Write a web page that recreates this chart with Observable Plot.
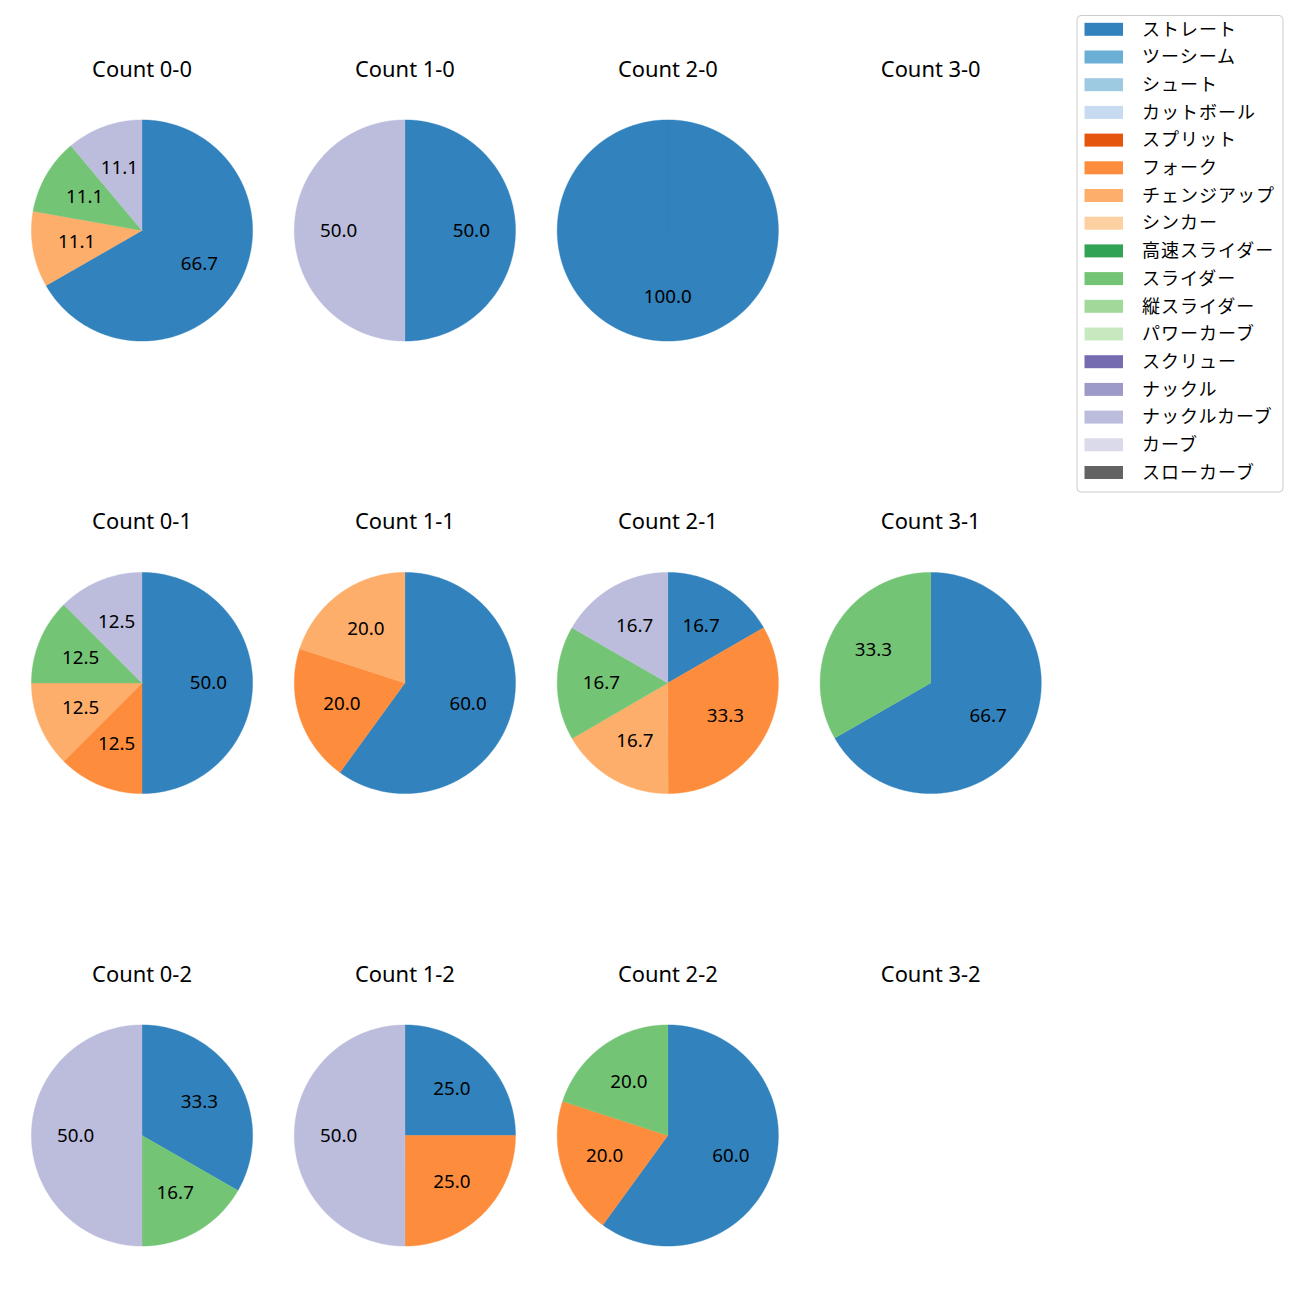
<!DOCTYPE html>
<html>
<head>
<meta charset="utf-8">
<script src="https://cdn.jsdelivr.net/npm/d3@7"></script>
<script src="https://cdn.jsdelivr.net/npm/@observablehq/plot@0.6"></script>
<style>
  body { margin: 0; background: #fff; }
</style>
</head>
<body>
<div id="chart"></div>
<script>
// ---- Data ----
const pitchTypes = ["ストレート", "ツーシーム", "シュート", "カットボール", "スプリット", "フォーク", "チェンジアップ", "シンカー", "高速スライダー", "スライダー", "縦スライダー", "パワーカーブ", "スクリュー", "ナックル", "ナックルカーブ", "カーブ", "スローカーブ"];
const pitchColors = ["#3182bd", "#6baed6", "#9ecae1", "#c6dbef", "#e6550d", "#fd8d3c", "#fdae6b", "#fdd0a2", "#31a354", "#74c476", "#a1d99b", "#c7e9c0", "#756bb1", "#9e9ac8", "#bcbddc", "#dadaeb", "#636363"];

const balls = [0, 1, 2, 3];
const strikes = [0, 1, 2];

// percentages per count, in pitch-type order
const count_0_0 = [["ストレート", 66.7], ["チェンジアップ", 11.1], ["スライダー", 11.1], ["ナックルカーブ", 11.1]];
const count_1_0 = [["ストレート", 50.0], ["ナックルカーブ", 50.0]];
const count_2_0 = [["ストレート", 100.0]];
const count_3_0 = [];
const count_0_1 = [["ストレート", 50.0], ["フォーク", 12.5], ["チェンジアップ", 12.5], ["スライダー", 12.5], ["ナックルカーブ", 12.5]];
const count_1_1 = [["ストレート", 60.0], ["フォーク", 20.0], ["チェンジアップ", 20.0]];
const count_2_1 = [["ストレート", 16.7], ["フォーク", 33.3], ["チェンジアップ", 16.7], ["スライダー", 16.7], ["ナックルカーブ", 16.7]];
const count_3_1 = [["ストレート", 66.7], ["スライダー", 33.3]];
const count_0_2 = [["ストレート", 33.3], ["スライダー", 16.7], ["ナックルカーブ", 50.0]];
const count_1_2 = [["ストレート", 25.0], ["フォーク", 25.0], ["ナックルカーブ", 50.0]];
const count_2_2 = [["ストレート", 60.0], ["フォーク", 20.0], ["スライダー", 20.0]];
const count_3_2 = [];

const countData = {
  "0-0": count_0_0, "1-0": count_1_0, "2-0": count_2_0, "3-0": count_3_0,
  "0-1": count_0_1, "1-1": count_1_1, "2-1": count_2_1, "3-1": count_3_1,
  "0-2": count_0_2, "1-2": count_1_2, "2-2": count_2_2, "3-2": count_3_2
};

// ---- Layout (pixel-unit scales) ----
const W = 1300, H = 1300;
const X0 = 141.5, DX = 262.9;   // pie centers by column
const Y0 = 230, DY = 452.5;     // pie centers by row
const R = 110.6;
const TITLE_DY = -161;
const LEG = {x1: 1077, x2: 1283, y1: 15.5, y2: 492, first: 29.3, step: 27.7, sw1: 1084.5, sw2: 1123, tx: 1141.5};

const wedgePts = [];
const labels = [];
const titles = [];
for (const s of strikes) {
  for (const b of balls) {
    const key = `${b}-${s}`;
    const cx = X0 + DX * b, cy = Y0 + DY * s;
    titles.push({x: cx, y: cy + TITLE_DY, text: `Count ${key}`});
    const arr = countData[key];
    const total = d3.sum(arr, d => d[1]);
    let theta = 90;
    arr.forEach(([type, v], i) => {
      const sweep = 360 * v / total;
      const t0 = theta, t1 = theta - sweep;
      const id = `${key}-${i}`;
      wedgePts.push({id, type, x: cx, y: cy});
      const n = Math.max(2, Math.ceil(sweep / 0.5));
      for (let k = 0; k <= n; k++) {
        const t = (t0 + (t1 - t0) * k / n) * Math.PI / 180;
        wedgePts.push({id, type, x: cx + R * Math.cos(t), y: cy - R * Math.sin(t)});
      }
      wedgePts.push({id, type, x: cx, y: cy});
      const tm = ((t0 + t1) / 2) * Math.PI / 180;
      labels.push({x: cx + 0.6 * R * Math.cos(tm), y: cy - 0.6 * R * Math.sin(tm), text: v.toFixed(1)});
      theta = t1;
    });
  }
}

const legendItems = pitchTypes.map((t, i) => ({type: t, i}));

const chart = Plot.plot({
  width: W,
  height: H,
  margin: 0,
  x: {domain: [0, W], range: [0, W], axis: null},
  y: {domain: [0, H], range: [0, H], axis: null},
  color: {type: "ordinal", domain: pitchTypes, range: pitchColors},
  style: {fontFamily: "'Noto Sans', 'Noto Sans CJK JP', sans-serif", background: "#fff", color: "#000"},
  marks: [
    Plot.line(wedgePts, {x: "x", y: "y", z: "id", fill: "type", stroke: "type", strokeWidth: 0.4, curve: "linear"}),
    Plot.text(labels, {x: "x", y: "y", text: "text", fontSize: 18.8, fill: "#000"}),
    Plot.text(titles, {x: "x", y: "y", text: "text", fontSize: 21.9, fill: "#000"}),
    // legend
    Plot.rect([LEG], {x1: "x1", x2: "x2", y1: "y1", y2: "y2", fill: "#fff", fillOpacity: 0.8, stroke: "#cccccc", strokeWidth: 1, rx: 4}),
    Plot.rect(legendItems, {
      x1: () => LEG.sw1, x2: () => LEG.sw2,
      y1: d => LEG.first + LEG.step * d.i - 6.5, y2: d => LEG.first + LEG.step * d.i + 6.5,
      fill: "type"
    }),
    Plot.text(legendItems, {
      x: () => LEG.tx, y: d => LEG.first + LEG.step * d.i,
      text: "type", textAnchor: "start", fontSize: 18, fill: "#000"
    })
  ]
});

// widen kana spacing in the legend to match the reference font metrics
d3.select(chart).selectAll("text")
  .filter(function () { return pitchTypes.includes(this.textContent); })
  .style("letter-spacing", "1px");

document.getElementById("chart").appendChild(chart);
</script>
</body>
</html>
